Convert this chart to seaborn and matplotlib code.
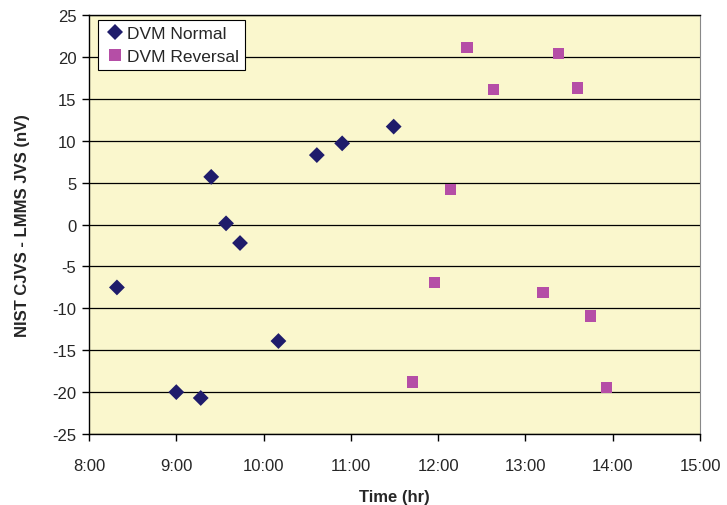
import seaborn as sns
import matplotlib.pyplot as plt
import pandas as pd
from matplotlib.ticker import FuncFormatter, MultipleLocator

# --- data (time in decimal hours, value in nV) ---
normal_time = [8.32, 9.00, 9.28, 9.40, 9.57, 9.73, 10.17, 10.61, 10.90, 11.49]
normal_value = [-7.5, -20.0, -20.7, 5.7, 0.15, -2.2, -13.9, 8.3, 9.7, 11.7]

reversal_time = [11.71, 11.96, 12.14, 12.33, 12.63, 13.20, 13.38, 13.60, 13.74, 13.93]
reversal_value = [-18.8, -6.9, 4.2, 21.1, 16.1, -8.1, 20.4, 16.3, -10.9, -19.4]

series_names = ["DVM Normal", "DVM Reversal"]

df = pd.DataFrame({
    "Time": normal_time + reversal_time,
    "Value": normal_value + reversal_value,
    "Series": [series_names[0]] * len(normal_time) + [series_names[1]] * len(reversal_time),
})

# --- chart ---
sns.set_style("white")
plt.rcParams["font.family"] = ["Liberation Sans", "DejaVu Sans"]
plt.rcParams["axes.unicode_minus"] = False

fig = plt.figure(figsize=(7.27, 5.06), dpi=100)
ax = fig.add_axes([0.1224, 0.1403, 0.8406, 0.8277])
ax.set_facecolor("#FAF7CD")

sns.scatterplot(
    data=df, x="Time", y="Value", hue="Series", style="Series",
    palette={"DVM Normal": "#1F1C6B", "DVM Reversal": "#B54EA6"},
    markers={"DVM Normal": "D", "DVM Reversal": "s"},
    s=65, linewidth=0, ax=ax, zorder=3,
)

ax.set_xlim(8, 15)
ax.set_ylim(-25, 25)
ax.xaxis.set_major_locator(MultipleLocator(1))
ax.yaxis.set_major_locator(MultipleLocator(5))
ax.xaxis.set_major_formatter(FuncFormatter(lambda x, p: f"{int(round(x))}:00"))

ax.grid(True, axis="y", color="black", linewidth=0.9)
ax.set_axisbelow(True)
ax.tick_params(axis="both", direction="out", length=5, width=1, color="black",
               labelsize=12, pad=4)
ax.tick_params(axis="x", pad=12)
ax.tick_params(bottom=True, left=True)

for side in ["left", "bottom", "top"]:
    ax.spines[side].set_color("black")
    ax.spines[side].set_linewidth(1)
ax.spines["right"].set_color("#888888")

ax.set_xlabel("Time (hr)", fontsize=12, fontweight="bold", labelpad=12)
ax.set_ylabel("NIST CJVS - LMMS JVS (nV)", fontsize=12, fontweight="bold", labelpad=16)

leg = ax.legend(loc="upper left", fontsize=12.5, frameon=True, fancybox=False,
                borderpad=0.35, handletextpad=0.1, labelspacing=0.45,
                borderaxespad=0.25, handlelength=1.2,
                bbox_to_anchor=(0.008, 1.0))
leg.get_frame().set_edgecolor("black")
leg.get_frame().set_facecolor("white")
leg.get_frame().set_alpha(1)
leg.get_frame().set_linewidth(0.8)

plt.savefig("out.png", dpi=100)
plt.close()
